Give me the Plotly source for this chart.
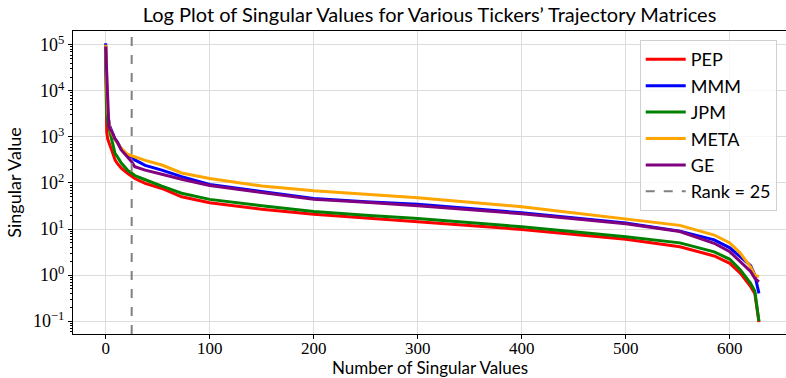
import math
import plotly.graph_objects as go

# singular value index positions (sampled)
idx = [0, 1, 2, 3, 4, 6, 9, 11, 15, 21, 25, 28, 35, 38, 54, 73, 100, 150, 200,
       250, 300, 400, 500, 552, 585, 600, 610, 620, 624, 628]

pep = [9.5e4, 1300, 900, 750, 670, 500, 316, 270, 210, 162, 137, 125, 105, 98, 76, 50,
       37, 27, 21, 17.7, 14.4, 9.8, 6.0, 4.1, 2.6, 1.8, 1.1, 0.56, 0.40, 0.095]
mmm = [1.08e5, 6000, 3000, 2000, 1700, 1300, 900, 780, 540, 400, 370, 316, 260, 240, 190, 137,
       93, 65, 46, 39, 34.6, 22.5, 13.5, 9.0, 5.8, 3.9, 2.5, 1.6, 1.0, 0.4]
jpm = [9.5e4, 3000, 2000, 1600, 1200, 790, 440, 380, 270, 190, 162, 145, 125, 117, 85, 60,
       44, 32, 24, 20, 17, 11.2, 6.8, 5.0, 3.2, 2.2, 1.3, 0.66, 0.45, 0.1]
meta = [1.0e5, 8000, 3500, 2200, 1550, 1200, 860, 750, 565, 420, 390, 370, 330, 310, 245, 165,
        125, 86, 68, 57, 48, 30.5, 16.5, 12, 7.4, 5.0, 3.0, 1.5, 1.0, 0.92]
ge = [9.2e4, 22000, 3500, 1800, 1500, 1300, 900, 790, 520, 370, 290, 225, 200, 190, 155, 120,
      88, 62, 44, 38, 32, 21.5, 13.0, 8.8, 4.9, 3.2, 1.95, 1.2, 0.85, 0.71]

names = ["PEP", "MMM", "JPM", "META", "GE"]
colors = ["red", "blue", "green", "orange", "purple"]
series = [pep, mmm, jpm, meta, ge]

RANK = 25
y_log_range = [-1.28, 5.30]
x_range = [-31.4, 654]

ytick_vals = [1e-1, 1e0, 1e1, 1e2, 1e3, 1e4, 1e5]
ytick_text = ["10<sup>−1</sup>", "10<sup>0</sup>", "10<sup>1</sup>", "10<sup>2</sup>",
              "10<sup>3</sup>", "10<sup>4</sup>", "10<sup>5</sup>"]
xtick_vals = [0, 100, 200, 300, 400, 500, 600]

# minor log tick positions (axis decoration)
minor_vals = [m * 10.0 ** e for e in range(-2, 6) for m in range(2, 10)
              if y_log_range[0] <= math.log10(m * 10.0 ** e) <= y_log_range[1]]

SANS = "Lato"
SERIF = "Liberation Serif"

fig = go.Figure()
for n, c, s in zip(names, colors, series):
    fig.add_trace(go.Scatter(x=idx, y=s, mode="lines", name=n,
                             line=dict(color=c, width=3)))

fig.add_trace(go.Scatter(x=[RANK, RANK], y=[10 ** y_log_range[0], 10 ** y_log_range[1]],
                         mode="lines", name="Rank = 25", yaxis="y2",
                         line=dict(color="gray", width=2, dash="dash")))

fig.update_layout(
    width=786, height=378,
    margin=dict(l=73, r=0, t=31, b=44),
    paper_bgcolor="white", plot_bgcolor="white",
    title=dict(text="Log Plot of Singular Values for Various Tickers’ Trajectory Matrices",
               x=0.5, xref="paper", y=1 - 15 / 378, yref="container", yanchor="middle",
               font=dict(family=SANS, size=20, color="black")),
    showlegend=True,
    legend=dict(x=0.987, y=0.97, xanchor="right", yanchor="top",
                bgcolor="rgba(255,255,255,0.8)", bordercolor="#d0d0d0", borderwidth=1,
                font=dict(family=SANS, size=18, color="black"),
                itemwidth=40, tracegroupgap=0),
    yaxis2=dict(type="log", range=y_log_range, overlaying="y", side="left", anchor="x",
                tickvals=minor_vals, ticktext=["" for _ in minor_vals],
                ticks="outside", ticklen=2, tickcolor="black", tickwidth=1,
                showgrid=False, zeroline=False, showline=False, fixedrange=True,
                automargin=False),
    annotations=[dict(text="Number of Singular Values", xref="paper", yref="paper",
                      x=0.5, y=-33 / 303, xanchor="center", yanchor="middle",
                      showarrow=False, font=dict(family=SANS, size=17, color="black"))],
)

fig.update_xaxes(range=x_range, tickvals=xtick_vals, ticks="outside", ticklen=4,
                 tickcolor="black", showline=True, linecolor="black", linewidth=1,
                 mirror=True, showgrid=True, gridcolor="#dcdcdc", gridwidth=1, zeroline=False,
                 ticklabelstandoff=-5, automargin=False,
                 tickfont=dict(family=SERIF, size=17, color="black"))

fig.layout.yaxis.update(type="log", range=y_log_range, tickvals=ytick_vals, ticktext=ytick_text,
                        ticks="outside", ticklen=4, tickcolor="black", automargin=False,
                        showline=True, linecolor="black", linewidth=1, mirror=False,
                        showgrid=True, gridcolor="#dcdcdc", gridwidth=1, zeroline=False,
                        tickfont=dict(family=SERIF, size=18, color="black"),
                        title=dict(text="Singular Value", standoff=6,
                                   font=dict(family=SANS, size=18, color="black")))

fig.write_html("out.html")
